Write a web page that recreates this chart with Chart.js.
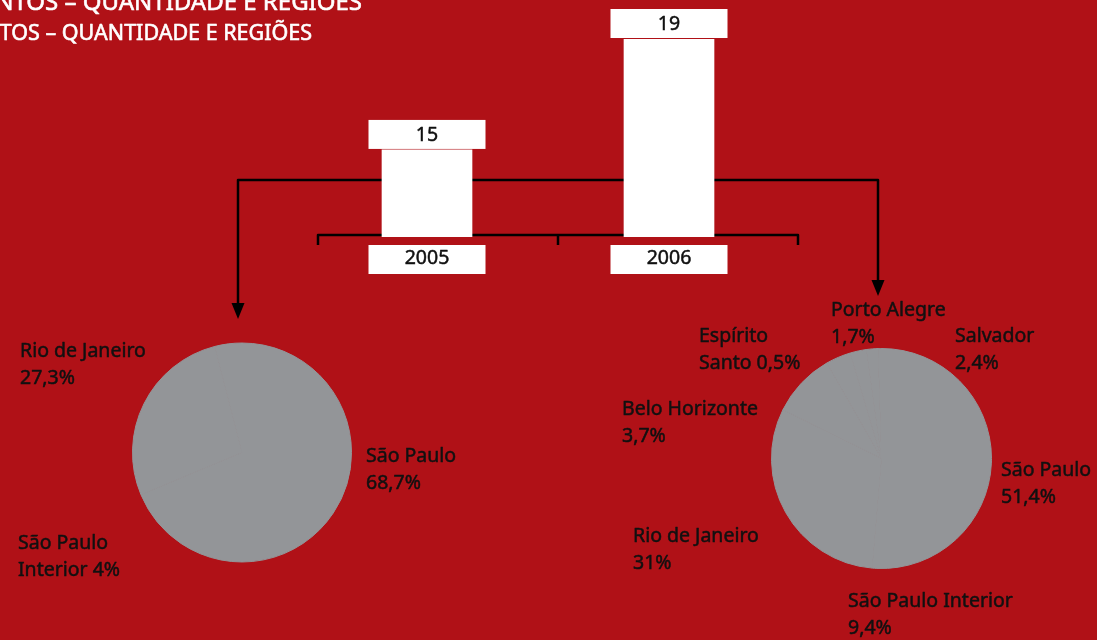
<!DOCTYPE html>
<html>
<head>
<meta charset="utf-8">
<script src="https://cdn.jsdelivr.net/npm/chart.js@4.4.1/dist/chart.umd.min.js"></script>
<style>
  html, body { margin: 0; padding: 0; background: #B01117; overflow: hidden; }
  #wrap { position: relative; width: 1097px; height: 640px; }
  canvas { position: absolute; left: 0; top: 0; }
</style>
</head>
<body>
<div id="wrap">
  <canvas id="bars" width="1097" height="640"></canvas>
  <canvas id="pie2005" width="1097" height="640"></canvas>
  <canvas id="pie2006" width="1097" height="640"></canvas>
</div>
<script>
// ---- data ----
const titleLines = ['EVENTOS – QUANTIDADE E REGIÕES', 'EVENTOS – QUANTIDADE E REGIÕES'];
const categories = ['2005', '2006'];
const eventCounts = [15, 19];
const regions2005 = ['São Paulo', 'Rio de Janeiro', 'São Paulo Interior'];
const shares2005 = [68.7, 27.3, 4];
const regions2006 = ['São Paulo', 'Rio de Janeiro', 'São Paulo Interior', 'Belo Horizonte', 'Salvador', 'Porto Alegre', 'Espírito Santo'];
const shares2006 = [51.4, 31, 9.4, 3.7, 2.4, 1.7, 0.5];

// ---- layout / style (not data) ----
const GREY = '#939598';
const INK = '#111111';
const FONT = '"Noto Sans", "Open Sans", sans-serif';
// label placement: [x, first baseline, words on first line]
const labelPos2005 = [[366, 462, 2], [20, 357, 3], [18, 549, 2]];
const labelPos2006 = [[1001, 476, 2], [633, 542, 3], [848, 607, 3], [622, 415, 2], [955, 342, 1], [831, 316, 2], [699, 342, 1]];

Chart.defaults.font.family = FONT;

const fmt = v => String(v).replace('.', ',') + '%';

// medium-weight text: fill plus a thin stroke of the same colour
function medText(ctx, txt, x, y, color, sw) {
  ctx.fillStyle = color;
  ctx.strokeStyle = color;
  ctx.lineWidth = sw;
  ctx.lineJoin = 'round';
  ctx.fillText(txt, x, y);
  ctx.strokeText(txt, x, y);
}

function arrowDown(ctx, x, tipY) {
  ctx.beginPath();
  ctx.moveTo(x - 6.5, tipY - 16);
  ctx.lineTo(x + 6.5, tipY - 16);
  ctx.lineTo(x, tipY);
  ctx.closePath();
  ctx.fill();
}

const barDecor = {
  id: 'barDecor',
  beforeDatasetsDraw(chart) {
    const ctx = chart.ctx, a = chart.chartArea;
    ctx.save();
    // title
    ctx.textAlign = 'right';
    ctx.textBaseline = 'alphabetic';
    ctx.font = '24px ' + FONT;
    medText(ctx, titleLines[0], 362, 10, '#ffffff', 0.6);
    ctx.font = '21.5px ' + FONT;
    medText(ctx, titleLines[1], 312, 40, '#ffffff', 0.6);
    // connector arrows
    ctx.strokeStyle = '#000';
    ctx.fillStyle = '#000';
    ctx.lineWidth = 2.5;
    ctx.beginPath();
    ctx.moveTo(238, 304);
    ctx.lineTo(238, 180);
    ctx.lineTo(878, 180);
    ctx.lineTo(878, 281);
    ctx.stroke();
    arrowDown(ctx, 238, 319);
    arrowDown(ctx, 878, 296);
    // axis bracket
    const by = a.bottom - 2;
    const l = a.left + 12, r = a.right + 8, m = (l + r) / 2;
    ctx.lineWidth = 2.5;
    ctx.beginPath();
    ctx.moveTo(l, by + 10); ctx.lineTo(l, by); ctx.lineTo(r, by); ctx.lineTo(r, by + 10);
    ctx.moveTo(m, by); ctx.lineTo(m, by + 10);
    ctx.stroke();
    ctx.restore();
  },
  afterDatasetsDraw(chart) {
    const ctx = chart.ctx, a = chart.chartArea;
    const meta = chart.getDatasetMeta(0);
    ctx.save();
    ctx.textAlign = 'center';
    ctx.textBaseline = 'alphabetic';
    ctx.font = '19.5px ' + FONT;
    meta.data.forEach((bar, i) => {
      const w = 117, h = 29;
      const top = bar.y - 1 - h;
      ctx.fillStyle = '#fff';
      ctx.fillRect(bar.x - w / 2, top, w, h);
      medText(ctx, String(chart.data.datasets[0].data[i]), bar.x, top + 21, INK, 0.5);
      const yt = a.bottom + 8;
      ctx.fillStyle = '#fff';
      ctx.fillRect(bar.x - w / 2, yt, w, h);
      medText(ctx, chart.data.labels[i], bar.x, yt + 19, INK, 0.5);
    });
    ctx.restore();
  }
};

new Chart(document.getElementById('bars'), {
  type: 'bar',
  data: {
    labels: categories,
    datasets: [{ data: eventCounts, backgroundColor: '#ffffff', borderWidth: 0, barThickness: 90 }]
  },
  options: {
    responsive: false, animation: false, devicePixelRatio: 1,
    layout: { padding: { left: 306, right: 307, top: 39, bottom: 403 } },
    scales: {
      x: { display: false, offset: true },
      y: { display: false, min: 11.86, max: 19 }
    },
    plugins: { legend: { display: false }, tooltip: { enabled: false } }
  },
  plugins: [barDecor]
});

function pieLabels(positions) {
  return {
    id: 'pieLabels',
    afterDraw(chart) {
      const ctx = chart.ctx;
      const labels = chart.data.labels;
      const vals = chart.data.datasets[0].data;
      ctx.save();
      ctx.font = '19.5px ' + FONT;
      ctx.textAlign = 'left';
      ctx.textBaseline = 'alphabetic';
      labels.forEach((name, i) => {
        const words = (name + ' ' + fmt(vals[i])).split(' ');
        const [x, y, n] = positions[i];
        medText(ctx, words.slice(0, n).join(' '), x, y, INK, 0.5);
        medText(ctx, words.slice(n).join(' '), x, y + 27, INK, 0.5);
      });
      ctx.restore();
    }
  };
}

function makePie(id, labels, values, positions, pad) {
  new Chart(document.getElementById(id), {
    type: 'pie',
    data: {
      labels: labels,
      datasets: [{ data: values, backgroundColor: labels.map(() => GREY), borderColor: GREY, borderWidth: 1 }]
    },
    options: {
      responsive: false, animation: false, devicePixelRatio: 1,
      layout: { padding: pad },
      plugins: { legend: { display: false }, tooltip: { enabled: false } }
    },
    plugins: [pieLabels(positions)]
  });
}

makePie('pie2005', regions2005, shares2005, labelPos2005, { left: 132, right: 745, top: 342, bottom: 77 });
makePie('pie2006', regions2006, shares2006, labelPos2006, { left: 771, right: 105, top: 348, bottom: 71 });
</script>
</body>
</html>
